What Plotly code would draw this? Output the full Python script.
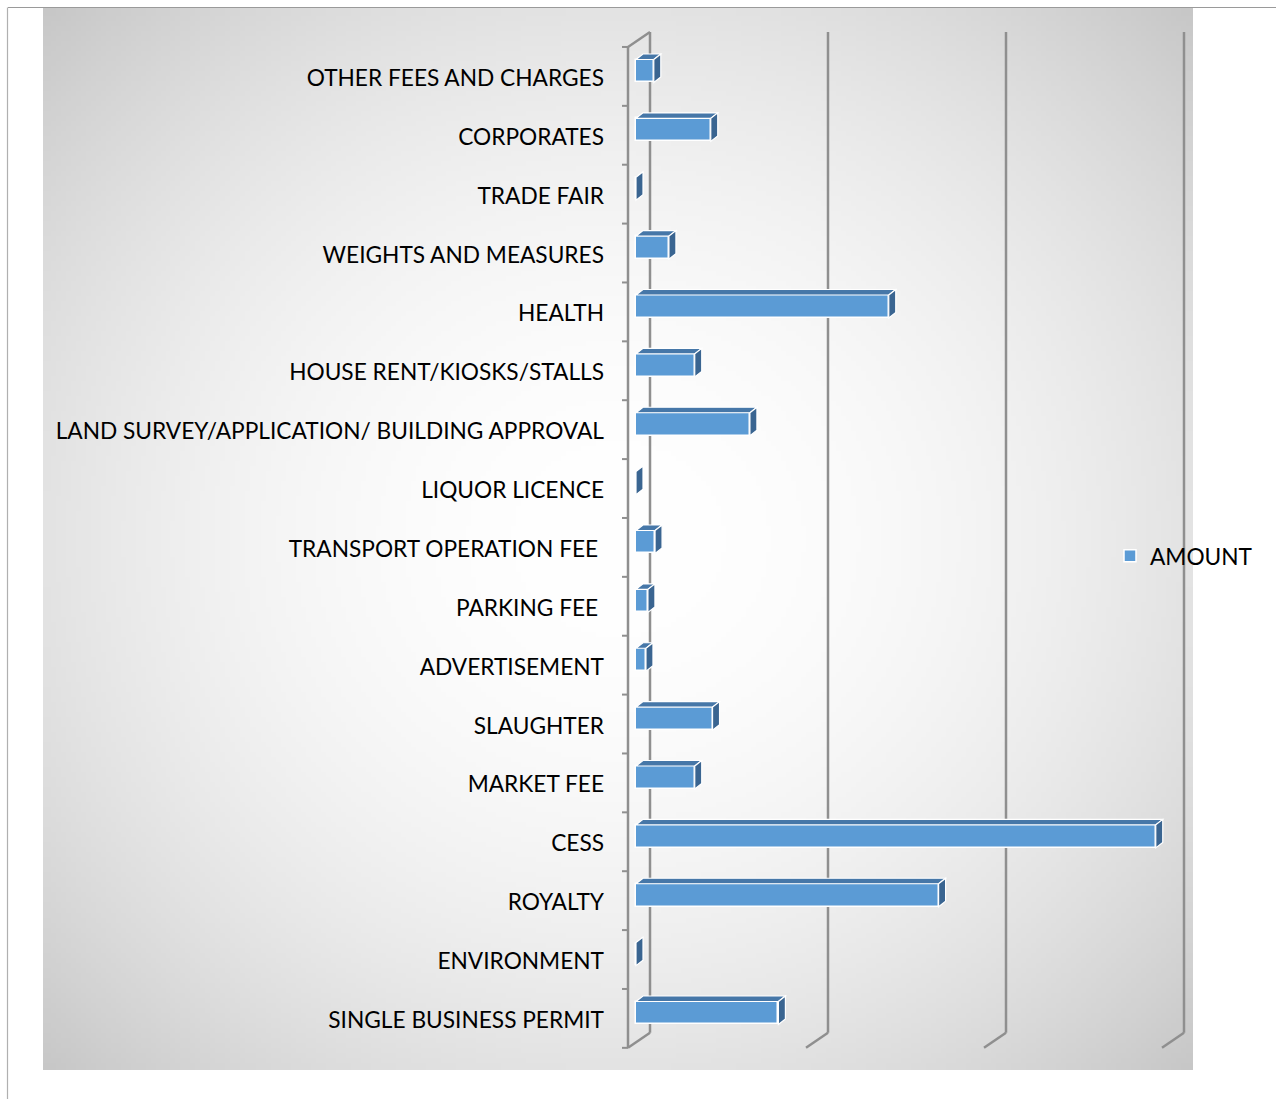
import base64, struct, zlib
import numpy as np
import plotly.graph_objects as go

# ---------------- data ----------------
categories = [
    "SINGLE BUSINESS PERMIT", "ENVIRONMENT", "ROYALTY", "CESS", "MARKET FEE",
    "SLAUGHTER", "ADVERTISEMENT", "PARKING FEE\u00a0", "TRANSPORT OPERATION FEE\u00a0",
    "LIQUOR LICENCE", "LAND SURVEY/APPLICATION/ BUILDING APPROVAL",
    "HOUSE RENT/KIOSKS/STALLS", "HEALTH", "WEIGHTS AND MEASURES", "TRADE FAIR",
    "CORPORATES", "OTHER FEES AND CHARGES",
]
amount = [0.80, 0.0, 1.70, 2.92, 0.33, 0.43, 0.056, 0.067, 0.107, 0.0, 0.64,
          0.33, 1.42, 0.185, 0.0, 0.42, 0.10]
series_name = "AMOUNT"
grid_values = [0, 1, 2, 3]

# ---------------- geometry / style ----------------
W, H = 1276, 1099
PX_X0, PX_X1 = 620, 1190          # plot area in pixels
PX_Y0, PX_Y1 = 20, 1060
ZERO_PX, UNIT_PX = 636, 178.0     # x mapping of the bar plane
CAT0_PX, CAT_PX = 1013, 58.875    # y mapping of the bar plane
ux = 1.0 / UNIT_PX                # value units per pixel
uy = 1.0 / CAT_PX                 # category units per pixel

x_range = [(PX_X0 - ZERO_PX) * ux, (PX_X1 - ZERO_PX) * ux]
y_range = [(CAT0_PX - PX_Y1) * uy, (CAT0_PX - PX_Y0) * uy]

BAR_W = 0.39
DEPTH_DX, DEPTH_DY = 7 * ux, 5.5 * uy           # bar depth
FRONT_DX, FRONT_DY = -8 * ux, -5.4 * uy          # floor front edge
BACK_DX, BACK_DY = 14 * ux, 9.6 * uy             # back wall
FRONT_C, TOP_C, SIDE_C = "#5b9bd5", "#4677a8", "#3a6591"
GRID_C = "#8f8f8f"
FONT = "Lato"
FSIZE = 22.7

idx = list(range(len(categories)))

fig = go.Figure()
fig.add_trace(go.Bar(
    x=amount, y=idx, orientation="h", width=BAR_W, name=series_name,
    marker=dict(color=FRONT_C, line=dict(color="white", width=1.5)),
    showlegend=True, hoverinfo="x+text", text=categories, textposition="none",
))

shapes = []
# back wall grid lines + floor diagonals
lo, hi = -0.5, len(categories) - 0.5
for g in grid_values:
    shapes.append(dict(type="line", xref="x", yref="y", layer="below",
                       x0=g + BACK_DX, x1=g + BACK_DX, y0=lo + BACK_DY, y1=hi + BACK_DY,
                       line=dict(color=GRID_C, width=2.5)))
    shapes.append(dict(type="line", xref="x", yref="y", layer="below",
                       x0=g + BACK_DX, x1=g + FRONT_DX, y0=lo + BACK_DY, y1=lo + FRONT_DY,
                       line=dict(color=GRID_C, width=2.5)))
# front category axis
shapes.append(dict(type="line", xref="x", yref="y", layer="below",
                   x0=FRONT_DX, x1=FRONT_DX, y0=lo + FRONT_DY, y1=hi + FRONT_DY,
                   line=dict(color=GRID_C, width=2.5)))
shapes.append(dict(type="line", xref="x", yref="y", layer="below",
                   x0=FRONT_DX, x1=BACK_DX, y0=hi + FRONT_DY, y1=hi + BACK_DY,
                   line=dict(color=GRID_C, width=2.5)))
for j in range(len(categories) + 1):
    yb = j - 0.5 + FRONT_DY
    shapes.append(dict(type="line", xref="x", yref="y", layer="below",
                       x0=FRONT_DX - 6 * ux, x1=FRONT_DX, y0=yb, y1=yb,
                       line=dict(color=GRID_C, width=2)))

# 3-D top and side faces of every bar, computed from the values
for i, v in zip(idx, amount):
    t, b = i + BAR_W / 2, i - BAR_W / 2
    top = (f"M {0} {t} L {v} {t} L {v + DEPTH_DX} {t + DEPTH_DY} "
           f"L {DEPTH_DX} {t + DEPTH_DY} Z")
    side = (f"M {v} {b} L {v} {t} L {v + DEPTH_DX} {t + DEPTH_DY} "
            f"L {v + DEPTH_DX} {b + DEPTH_DY} Z")
    for p, c in ((top, TOP_C), (side, SIDE_C)):
        shapes.append(dict(type="path", path=p, xref="x", yref="y", layer="above",
                           fillcolor=c, line=dict(color="white", width=1.2)))

# outer frame lines
shapes.append(dict(type="line", xref="paper", yref="paper", x0=8 / W, x1=1, y0=1 - 7.5 / H,
                   y1=1 - 7.5 / H, line=dict(color="#9a9a9a", width=1.2)))
shapes.append(dict(type="line", xref="paper", yref="paper", x0=7.5 / W, x1=7.5 / W, y0=0,
                   y1=1 - 7.5 / H, line=dict(color="#b0b0b0", width=1.2)))


# ---------------- radial gradient background (decoration) ----------------
def png_uri(gray):
    h, w = gray.shape
    raw = b"".join(b"\x00" + row.tobytes() for row in gray)

    def chunk(tag, data):
        return (struct.pack(">I", len(data)) + tag + data
                + struct.pack(">I", zlib.crc32(tag + data) & 0xFFFFFFFF))
    png = (b"\x89PNG\r\n\x1a\n" + chunk(b"IHDR", struct.pack(">IIBBBBB", w, h, 8, 0, 0, 0, 0))
           + chunk(b"IDAT", zlib.compress(raw, 9)) + chunk(b"IEND", b""))
    return "data:image/png;base64," + base64.b64encode(png).decode()


BG_X0, BG_X1, BG_Y0, BG_Y1 = 43, 1193, 8, 1070
gw, gh = 230, 212
xs = (np.arange(gw) + 0.5) / gw * 2 - 1
ys = (np.arange(gh) + 0.5) / gh * 2 - 1
r2 = xs[None, :] ** 2 + ys[:, None] ** 2
gray = np.clip(255 - 28 * r2, 0, 255).astype(np.uint8)

fig.add_layout_image(dict(
    source=png_uri(gray), xref="paper", yref="paper",
    x=BG_X0 / W, y=1 - BG_Y0 / H, sizex=(BG_X1 - BG_X0) / W, sizey=(BG_Y1 - BG_Y0) / H,
    xanchor="left", yanchor="top", sizing="stretch", layer="below",
))

fig.update_layout(
    width=W, height=H, margin=dict(l=0, r=0, t=0, b=0),
    paper_bgcolor="white", plot_bgcolor="rgba(0,0,0,0)",
    font=dict(family=FONT, size=FSIZE, color="#000000"),
    shapes=shapes, bargap=0,
    xaxis=dict(domain=[PX_X0 / W, PX_X1 / W], range=x_range, showgrid=False,
               zeroline=False, showticklabels=False, showline=False, ticks=""),
    yaxis=dict(domain=[1 - PX_Y1 / H, 1 - PX_Y0 / H], range=y_range, showgrid=False,
               zeroline=False, showline=False, ticks="", tickmode="array",
               tickvals=idx, ticktext=categories, ticklabelstandoff=15,
               ticklabelshift=7, tickfont=dict(family=FONT, size=FSIZE, color="#000000")),
    legend=dict(x=1110 / W, y=1 - 556 / H, xanchor="left", yanchor="middle",
                bgcolor="rgba(0,0,0,0)", font=dict(family=FONT, size=FSIZE, color="#000000"),
                itemwidth=30),
)

fig.write_html("out.html", config={"displayModeBar": False},
               post_script="document.body.style.margin='0px';"
                           "document.body.style.overflow='hidden';")
